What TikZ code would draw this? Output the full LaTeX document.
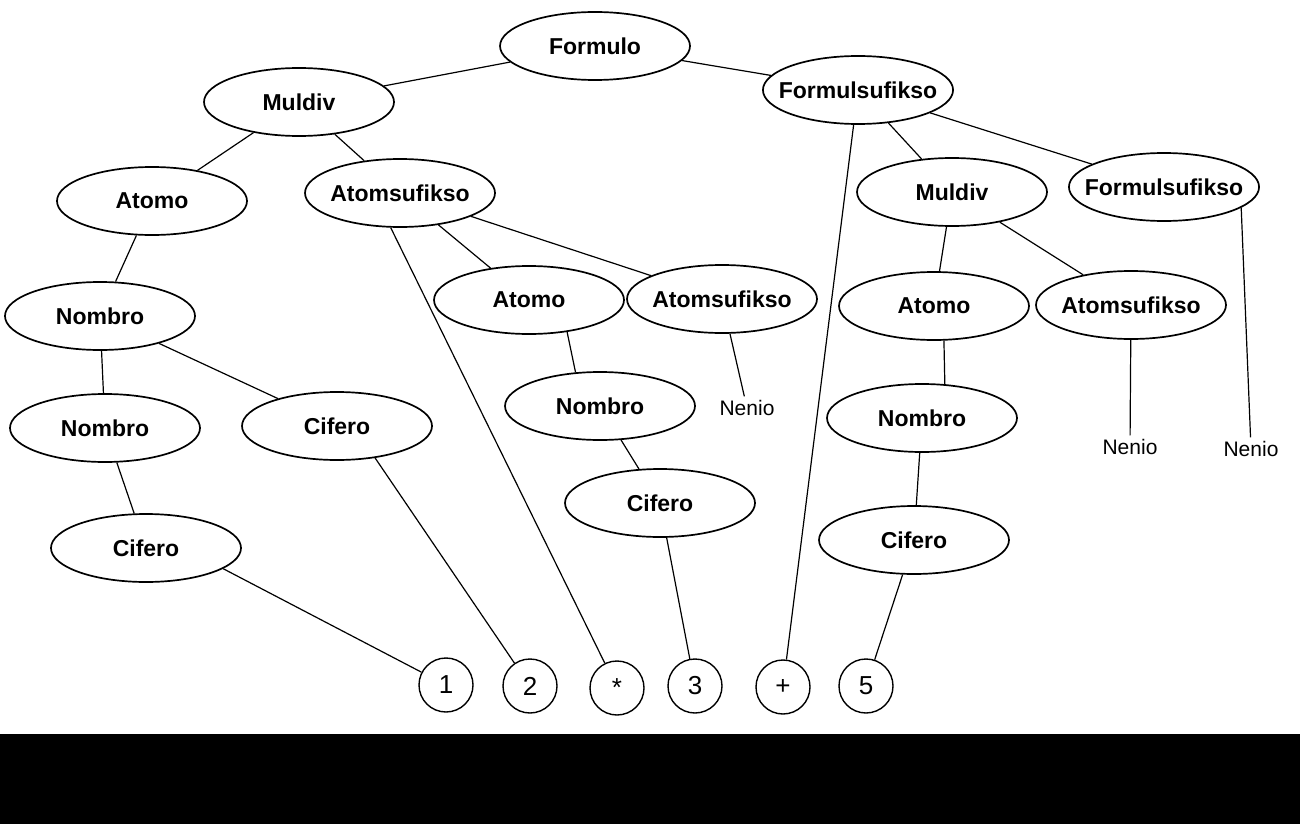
\documentclass[tikz,border=0pt]{standalone}
\usepackage{fontspec}
\setmainfont{Liberation Sans}
\usetikzlibrary{positioning,shapes.geometric}

\begin{document}
\begin{tikzpicture}[x=1pt,y=-1pt,line width=1.2pt,
	nt/.style={ellipse,draw,line width=1.7pt,minimum width=190pt,minimum height=68pt,inner xsep=-12pt,inner ysep=0pt,font=\fontsize{23}{26}\selectfont\bfseries},
	leaf/.style={circle,draw,line width=1.4pt,minimum size=54pt,inner sep=0pt,font=\fontsize{26}{28}\selectfont},
	empty/.style={font=\fontsize{21}{24}\selectfont}]
	\useasboundingbox (0,0) rectangle (1300,824);
	\fill[black] (0,734) rectangle (1300,824);

	\node[nt] (formulo) at (595,46) {Formulo};
	\node[nt] (muldiv) at (299,102) {Muldiv};
	\node[nt] (fsuf) at (858,90) {Formulsufikso};
	\node[nt] (atomo) at (152,201) {Atomo};
	\node[nt] (asuf) at (400,193) {Atomsufikso};
	\node[nt] (muldivb) at (952,192) {Muldiv};
	\node[nt] (fsufb) at (1164,187) {Formulsufikso};
	\node[nt] (nombro) at (100,316) {Nombro};
	\node[nt] (atomob) at (529,300) {Atomo};
	\node[nt] (asufb) at (722,299) {Atomsufikso};
	\node[nt] (atomoc) at (934,306) {Atomo};
	\node[nt] (asufc) at (1131,305) {Atomsufikso};
	\node[nt] (nombrob) at (105,428) {Nombro};
	\node[nt] (cifero) at (337,426) {Cifero};
	\node[empty] (nenio) at (747,408) {Nenio};
	\node[nt] (nombroc) at (600,406) {Nombro};
	\node[nt] (nombrod) at (922,418) {Nombro};
	\node[empty] (neniob) at (1130,447) {Nenio};
	\node[empty] (nenioc) at (1251,449) {Nenio};
	\node[nt] (ciferob) at (146,548) {Cifero};
	\node[nt] (ciferoc) at (660,503) {Cifero};
	\node[nt] (ciferod) at (914,540) {Cifero};

	\node[leaf] (unu) at (446,685) {1};
	\node[leaf] (du) at (530,686) {2};
	\node[leaf] (oble) at (617,688) {*};
	\node[leaf] (tri) at (695,686) {3};
	\node[leaf] (plus) at (783,687) {+};
	\node[leaf] (kvin) at (866,686) {5};

	\draw (formulo) -- (muldiv);
	\draw (formulo) -- (fsuf);
	\draw (muldiv) -- (atomo);
	\draw (muldiv) -- (asuf);
	\draw (atomo) -- (nombro);
	\draw (nombro) -- (nombrob);
	\draw (nombro) -- (cifero);
	\draw (nombrob) -- (ciferob);
	\draw (ciferob.-15) -- (unu);
	\draw (cifero.-40) -- (du);
	\draw (asuf.-105) -- (oble);
	\draw (asuf) -- (atomob);
	\draw (asuf) -- (asufb);
	\draw (asufb) -- (nenio);
	\draw (atomob.-40) -- (nombroc.126);
	\draw (nombroc) -- (ciferoc);
	\draw (ciferoc) -- (tri);
	\draw (fsuf) -- (plus);
	\draw (fsuf) -- (muldivb);
	\draw (fsuf) -- (fsufb);
	\draw (fsufb.-15) -- (nenioc);
	\draw (muldivb) -- (atomoc);
	\draw (muldivb) -- (asufc);
	\draw (asufc) -- (neniob);
	\draw (atomoc.-74) -- (nombrod.56);
	\draw (nombrod) -- (ciferod);
	\draw (ciferod) -- (kvin);
\end{tikzpicture}
\end{document}
